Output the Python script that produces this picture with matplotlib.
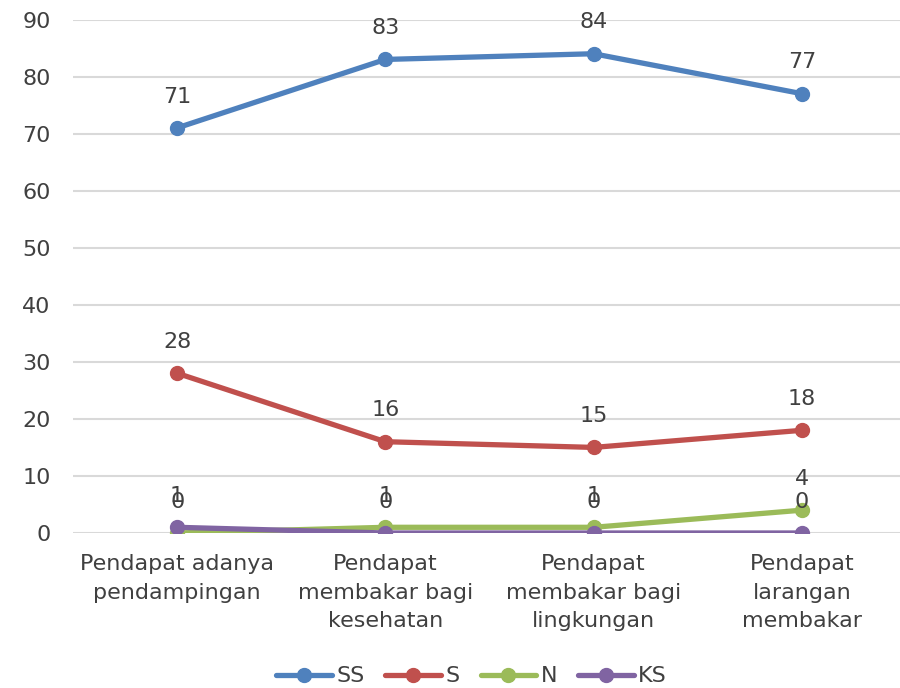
import matplotlib.pyplot as plt

categories = ["Pendapat adanya\npendampingan", "Pendapat\nmembakar bagi\nkesehatan",
              "Pendapat\nmembakar bagi\nlingkungan", "Pendapat\nlarangan\nmembakar"]
ss = [71, 83, 84, 77]
s = [28, 16, 15, 18]
n = [0, 1, 1, 4]
ks = [1, 0, 0, 0]

series = [("SS", ss, "#4F81BD"), ("S", s, "#C0504D"), ("N", n, "#9BBB59"), ("KS", ks, "#8064A2")]

plt.rcParams['font.family'] = ['DejaVu Sans']
fig = plt.figure(figsize=(9, 6.88), dpi=100)
ax = fig.add_axes([73 / 900, 155 / 688, 833 / 900, 513.5 / 688])

x = list(range(len(categories)))
for name, vals, color in series:
    ax.plot(x, vals, color=color, lw=3.8, marker="o", ms=10, label=name, solid_capstyle="round")
    for xi, v in zip(x, vals):
        ax.annotate(str(v), (xi, v), xytext=(0, 22.5), textcoords="offset points",
                    ha="center", va="center", fontsize=16, color="#404040")

ax.set_xlim(-0.5, 3.5)
ax.set_ylim(0, 90)
ax.set_yticks(range(0, 91, 10))
ax.set_xticks(x)
ax.set_xticklabels(categories, fontsize=16, color="#404040", linespacing=1.55)
ax.tick_params(axis="y", labelsize=16, labelcolor="#404040", length=0, pad=16)
ax.tick_params(axis="x", length=0, pad=15)
ax.grid(axis="y", color="#D9D9D9", lw=1.5)
ax.set_axisbelow(True)
for sp in ax.spines.values():
    sp.set_visible(False)

fig.legend(loc="center", bbox_to_anchor=(0.524, 0.017), ncol=4, frameon=False,
           fontsize=16, handlelength=2.5, columnspacing=0.95, handletextpad=0.2,
           labelcolor="#404040")

fig.savefig("out.png", dpi=100)
